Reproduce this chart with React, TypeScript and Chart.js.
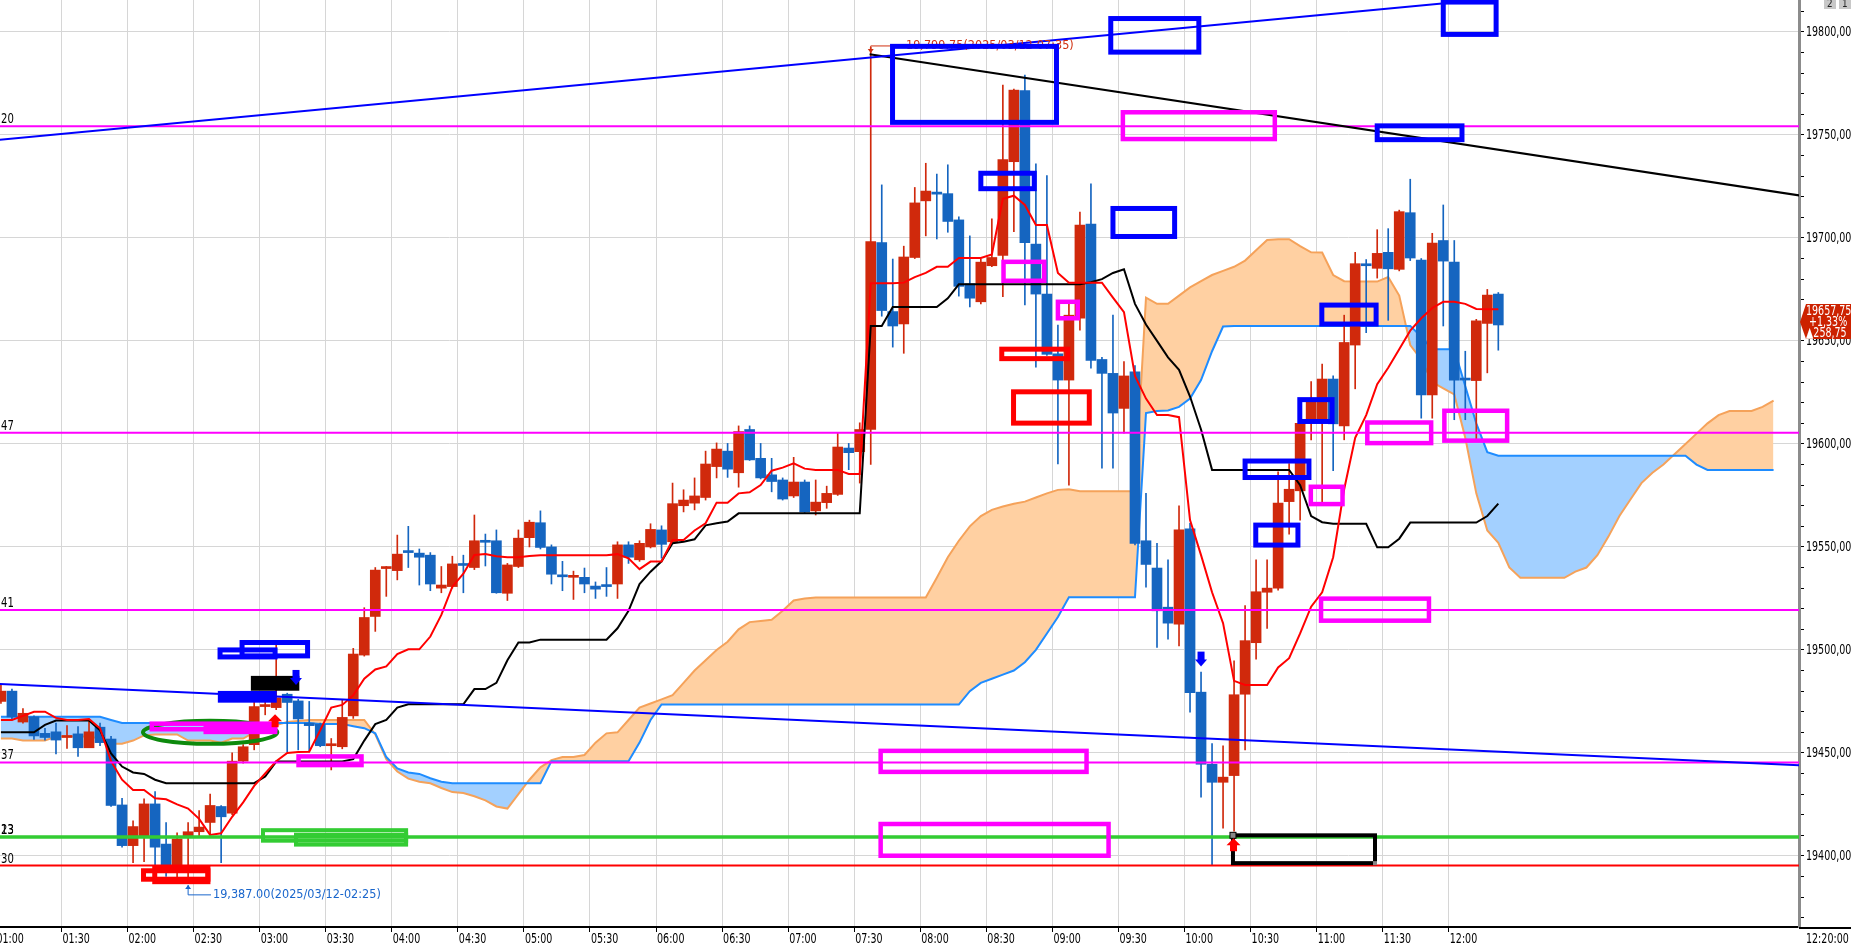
import React, { useEffect, useRef } from 'react';
import { Chart, registerables } from 'chart.js';

Chart.register(...registerables);

// ---------- axis labels ----------
const xTickLabels = ['01:00', '01:30', '02:00', '02:30', '03:00', '03:30', '04:00', '04:30', '05:00', '05:30', '06:00', '06:30', '07:00', '07:30', '08:00', '08:30', '09:00', '09:30', '10:00', '10:30', '11:00', '11:30', '12:00'];
const xEndLabel = '12:20:00';
const yMajorTicks = [19400, 19450, 19500, 19550, 19600, 19650, 19700, 19750, 19800];

// ---------- 5-minute candles (index 0 = 01:00) ----------
const open = [
  19475, 19480, 19465, 19467.5, 19459.5, 19460.25, 19457.5, 19459.25, 19452.5, 19462.5,
  19456.75, 19424.75, 19405, 19409.75, 19425.25, 19405.75, 19393.25, 19409.75, 19411.75, 19416.25,
  19424, 19420.75, 19446, 19454, 19472.5, 19472, 19478.5, 19475.25, 19464.5, 19464,
  19453.5, 19453, 19468, 19497.5, 19516.25, 19539.5, 19538.5, 19547.5, 19547, 19546,
  19530, 19530.75, 19541.25, 19540, 19552.5, 19553, 19527.5, 19540.5, 19554.5, 19561.75,
  19550, 19536, 19535.25, 19535.25, 19531, 19531, 19532, 19551, 19543.75, 19550,
  19558.25, 19552.5, 19570, 19571.25, 19574, 19589, 19596.5, 19586, 19607, 19593,
  19585, 19582.5, 19574.75, 19581.5, 19567.5, 19571.5, 19575.5, 19598, 19596.25, 19607,
  19697.75, 19664.25, 19658.25, 19690.5, 19718, 19722.25, 19721.5, 19708.75, 19677.75, 19669,
  19686.5, 19691.5, 19737, 19771.5, 19697, 19672.75, 19643.75, 19631, 19661, 19706.75,
  19641, 19634.25, 19617.25, 19635, 19553, 19539.75, 19520.75, 19512.5, 19558.75, 19479.5,
  19444.5, 19435.75, 19439, 19478.5, 19503.5, 19528, 19530, 19572, 19577.25, 19611.75,
  19611.75, 19631.5, 19608.75, 19648, 19687, 19685.25, 19693, 19684.75, 19712.25, 19689.25,
  19623.75, 19698.75, 19688.25, 19631.5, 19630.75, 19658.5, 19672.75
];
const high = [
  19483, 19481, 19471.5, 19468, 19462, 19464.5, 19463.25, 19462.75, 19465.5, 19464.5,
  19458, 19428, 19417, 19427.75, 19431.25, 19416.25, 19411.25, 19416.25, 19422, 19430,
  19424.5, 19450, 19454, 19475, 19475.75, 19502.5, 19479, 19476, 19475, 19464.5,
  19457, 19475.75, 19500.75, 19520.5, 19540, 19540.5, 19555.75, 19560, 19549, 19547.25,
  19540.5, 19545.5, 19546, 19565.5, 19556.25, 19558.25, 19542, 19558.25, 19563, 19567.5,
  19551, 19543, 19538.25, 19539.75, 19533, 19540, 19552.5, 19552.5, 19553, 19561.25,
  19560.25, 19581, 19577.75, 19583.5, 19596.5, 19600.5, 19600.25, 19608.75, 19608.75, 19600.25,
  19593, 19583.5, 19593.5, 19582.5, 19582.5, 19579.5, 19605.5, 19600.25, 19610.25, 19792.5,
  19725.75, 19689.75, 19696, 19724.5, 19736.25, 19731, 19735.5, 19710.25, 19701, 19689.75,
  19709.25, 19774.25, 19772.25, 19779, 19736, 19730.25, 19657.75, 19668.25, 19712.5, 19726.25,
  19642, 19662.5, 19640, 19638, 19576, 19551.75, 19543.75, 19570, 19561.5, 19489.25,
  19454.5, 19453.5, 19494.75, 19521.5, 19543.75, 19543.75, 19586.5, 19590.5, 19612, 19630.25,
  19638.75, 19633, 19662.5, 19693, 19689.5, 19704, 19704.5, 19713.5, 19728.5, 19690,
  19702.25, 19716, 19698.75, 19645, 19660.5, 19675, 19673.5
];
const low = [
  19474, 19466, 19464.5, 19456.5, 19456.25, 19449.5, 19452.25, 19448.25, 19452.5, 19453.5,
  19424, 19404.25, 19396.75, 19397.25, 19395.5, 19390, 19389, 19387, 19409.5, 19410.25,
  19396.75, 19420, 19445, 19451.5, 19468.5, 19471, 19450.5, 19451.5, 19450.5, 19453,
  19441.75, 19452, 19466.75, 19497, 19509, 19526, 19534, 19540, 19531.5, 19528.75,
  19527.75, 19530, 19527.75, 19539, 19540.75, 19527.5, 19524, 19540, 19550, 19549,
  19532, 19528.75, 19524.5, 19527.75, 19525, 19526, 19525, 19542, 19543, 19549.5,
  19544.5, 19552, 19567, 19568, 19572.75, 19583.5, 19583.75, 19579, 19592, 19583,
  19576.75, 19572.75, 19574, 19566.5, 19565.5, 19568.75, 19575, 19587.5, 19581, 19590,
  19662, 19647, 19644, 19690, 19701, 19699.5, 19702.75, 19671.75, 19666.5, 19668,
  19686, 19671.5, 19703, 19667.5, 19637.25, 19643, 19590.25, 19580, 19655.25, 19636.75,
  19588.25, 19588.25, 19605.25, 19551, 19530.5, 19501.25, 19505.25, 19502, 19469.75, 19428.5,
  19395.5, 19413.5, 19412, 19451.5, 19495.5, 19510.5, 19529, 19556.25, 19563, 19602,
  19571.25, 19587, 19602, 19626.75, 19654, 19680.5, 19660, 19684, 19689, 19612.5,
  19612.5, 19657.25, 19611.75, 19611.75, 19602.25, 19634.5, 19645.5
];
const close = [
  19480, 19467.5, 19469.25, 19458.25, 19457.5, 19456.25, 19457.75, 19452.5, 19460.25, 19455,
  19424.5, 19405, 19414.25, 19425.25, 19404.25, 19395, 19408.25, 19411.75, 19414, 19424.5,
  19419, 19446, 19453, 19472.5, 19473, 19476.75, 19474.5, 19466.5, 19463.25, 19453.5,
  19453.75, 19467.25, 19498, 19515.75, 19538.75, 19540, 19546.5, 19547.25, 19545, 19532,
  19531.5, 19541.75, 19541, 19553, 19552.25, 19527.75, 19541.25, 19554.25, 19562, 19549.75,
  19536.75, 19535.5, 19535.5, 19532, 19529.5, 19530.75, 19551, 19545, 19551.75, 19558.5,
  19551.25, 19571, 19572.75, 19574.75, 19590.25, 19597.5, 19587.75, 19606, 19592.25, 19583.5,
  19581.75, 19573.25, 19581.5, 19567, 19571.75, 19576, 19598.5, 19595.75, 19607, 19698.25,
  19664.75, 19657.25, 19690.75, 19717, 19722.75, 19721.25, 19708, 19676.5, 19670.75, 19688.25,
  19690.5, 19738, 19771.75, 19697.75, 19672.75, 19643.5, 19631, 19662.5, 19706.25, 19640.5,
  19634.25, 19615, 19633, 19551.75, 19541.5, 19519, 19513, 19558.25, 19479.25, 19444.5,
  19435.75, 19438.25, 19478.25, 19504.5, 19528.25, 19530, 19571.25, 19578, 19610, 19620.5,
  19631.5, 19609.75, 19649.25, 19687.5, 19686.5, 19692.5, 19685, 19712.75, 19690.25, 19623.75,
  19697.5, 19688.75, 19631, 19631, 19659.75, 19672.25, 19657.75
];

// ---------- Ichimoku lines ----------
const tenkan = [
  19466, 19466, 19468, 19470, 19470, 19467, 19466, 19466, 19466.5, 19462,
  19446, 19437, 19432, 19432, 19428, 19427.5, 19425, 19423, 19418, 19410.2,
  19411, 19419, 19426, 19434, 19440, 19446, 19450, 19450.5, 19450.6, 19461,
  19472, 19473.3, 19478, 19486, 19490.5, 19492, 19498, 19500.3, 19500.3, 19506.5,
  19517, 19530.7, 19537, 19546.1, 19546.6, 19545.5, 19545, 19545, 19545.6, 19546,
  19546, 19546, 19546, 19546, 19546, 19546, 19546.5, 19544.5, 19539.2, 19542.9,
  19542.9, 19553.4, 19553.4, 19558, 19561.5, 19571.5, 19571.5, 19576, 19576.5, 19580,
  19587, 19588.5, 19590.6, 19588, 19587.4, 19587.4, 19587.4, 19585.4, 19585.4, 19678,
  19678, 19678, 19678.3, 19681, 19683, 19686, 19686, 19690.3, 19690.3, 19690.3,
  19692, 19719, 19720.5, 19716, 19706.3, 19706.3, 19683, 19678.3, 19678.3, 19678.3,
  19678.3, 19671, 19664, 19633, 19622, 19614, 19614, 19613, 19563, 19546,
  19528, 19513, 19485, 19483, 19483, 19483, 19491.5, 19496, 19508, 19521,
  19528, 19545, 19578, 19603, 19614, 19629, 19637, 19646, 19655, 19661,
  19666, 19669, 19669, 19668, 19665.5, 19665.4, 19665.4
];
const kijun = [
  19460, 19460, 19460, 19460, 19463.6, 19465.7, 19465.7, 19465.7, 19465.7, 19461,
  19449.8, 19443.4, 19440.5, 19439.8, 19437, 19435.3, 19435.3, 19435.3, 19435.3, 19435.3,
  19435.3, 19435.3, 19435.3, 19435.3, 19438.5, 19445.8, 19445.8, 19445.8, 19445.8, 19445.8,
  19445.8, 19445.8, 19447, 19456, 19464, 19466, 19472, 19473.6, 19473.6, 19473.6,
  19473.6, 19473.6, 19473.6, 19481, 19481, 19484, 19495, 19503.6, 19503.6, 19505,
  19505, 19505, 19505, 19505, 19505, 19505, 19510.5, 19519, 19532, 19538,
  19543, 19551.8, 19552.5, 19553.7, 19560.5, 19561.5, 19562.3, 19566.3, 19566.3, 19566.3,
  19566.3, 19566.3, 19566.3, 19566.3, 19566.3, 19566.3, 19566.3, 19566.3, 19566.3, 19657.3,
  19657.3, 19666.5, 19666.5, 19666.5, 19666.5, 19666.5, 19670.7, 19677.5, 19677.5, 19677.5,
  19677.5, 19677.5, 19677.5, 19677.5, 19677.5, 19677.5, 19677.5, 19677.5, 19677.5, 19678.5,
  19680, 19683, 19684.8, 19668, 19658, 19650, 19642, 19636, 19623, 19607,
  19587.4, 19587.4, 19587.4, 19587.4, 19587.4, 19587.4, 19587.4, 19587.4, 19580, 19565,
  19562, 19561.2, 19561.2, 19561.2, 19561.2, 19549.8, 19549.8, 19554, 19561.8, 19561.8,
  19561.8, 19561.8, 19561.8, 19561.8, 19561.8, 19565, 19571
];
const spanA = [
  19457, 19457, 19456, 19456, 19456, 19458, 19458, 19458, 19458, 19457,
  19454.5, 19454.5, 19456, 19458.5, 19459, 19459, 19459, 19456, 19456, 19456,
  19455, 19457, 19457, 19460, 19462, 19463.5, 19465, 19465.5, 19466, 19466,
  19466, 19466, 19466, 19466, 19459, 19447, 19441, 19437.5, 19436, 19435.3,
  19433, 19431, 19430.5, 19429, 19427, 19424, 19423, 19430, 19437, 19443,
  19446.5, 19448, 19448, 19449, 19455, 19459.5, 19460, 19466, 19472, 19474,
  19476, 19478, 19484, 19490, 19495, 19500, 19504, 19510, 19513.5, 19514,
  19514.6, 19519, 19524, 19525, 19525.5, 19525.5, 19525.5, 19525.5, 19525.5, 19525.5,
  19525.5, 19525.5, 19525.5, 19525.5, 19525.5, 19535, 19545, 19553, 19560, 19565,
  19568, 19569.6, 19571, 19572, 19574, 19576, 19577.7, 19578, 19577, 19577,
  19577, 19577, 19577, 19577, 19671, 19668, 19668, 19672, 19676, 19679,
  19682, 19684, 19686, 19689, 19694, 19699, 19699.4, 19699.4, 19696, 19693,
  19692.9, 19682, 19679, 19678.8, 19678.8, 19678.8, 19681, 19672, 19648, 19641,
  19630, 19627, 19624, 19603, 19576, 19558, 19552, 19540, 19535, 19535,
  19535, 19535, 19535, 19538, 19540, 19546, 19555, 19565, 19573, 19581,
  19586, 19590, 19595, 19600, 19605, 19610, 19614, 19616, 19616, 19616,
  19618, 19621
];
const spanB = [
  19467.6, 19467.6, 19467.6, 19467.6, 19467.6, 19467.6, 19467.6, 19467.6, 19467.6, 19467.6,
  19466, 19464.5, 19464.5, 19464.5, 19464.5, 19464.5, 19464.5, 19464.5, 19464.5, 19464.5,
  19464.5, 19464.5, 19464.5, 19464.5, 19464.5, 19464.5, 19464.5, 19464.5, 19464.5, 19464.1,
  19464.1, 19464.1, 19463, 19462, 19459.5, 19448, 19442.5, 19440.5, 19439.8, 19437.7,
  19436, 19435.3, 19435.3, 19435.3, 19435.3, 19435.3, 19435.3, 19435.3, 19435.3, 19435.3,
  19446, 19446, 19446, 19446, 19446, 19446, 19446, 19446, 19455, 19466,
  19473.5, 19473.5, 19473.5, 19473.5, 19473.5, 19473.5, 19473.5, 19473.5, 19473.5, 19473.5,
  19473.5, 19473.5, 19473.5, 19473.5, 19473.5, 19473.5, 19473.5, 19473.5, 19473.5, 19473.5,
  19473.5, 19473.5, 19473.5, 19473.5, 19473.5, 19473.5, 19473.5, 19473.5, 19480, 19484,
  19486, 19488, 19490, 19494, 19500, 19508, 19516, 19525.6, 19525.6, 19525.6,
  19525.6, 19525.6, 19525.6, 19525.6, 19615, 19616, 19616.2, 19618, 19622, 19631,
  19645, 19657, 19657.3, 19657.3, 19657.3, 19657.3, 19657.3, 19657.3, 19657.3, 19657.3,
  19657.3, 19657.3, 19657.3, 19657.3, 19657.3, 19657.3, 19657.3, 19657.3, 19657.3, 19652,
  19646, 19646, 19646, 19628, 19610, 19596, 19594.3, 19594.3, 19594.3, 19594.3,
  19594.3, 19594.3, 19594.3, 19594.3, 19594.3, 19594.3, 19594.3, 19594.3, 19594.3, 19594.3,
  19594.3, 19594.3, 19594.3, 19594.3, 19590, 19587.4, 19587.4, 19587.4, 19587.4, 19587.4,
  19587.4, 19587.4
];

// ---------- horizontal levels ----------
const levelValues = [19754.2, 19605.47, 19519.41, 19445.37, 19409.13, 19409.23, 19395.3];
const levelLabels = ['20', '47', '41', '37', '13', '23', '30'];
const levelKinds = ['m', 'm', 'm', 'm', 'g', 'g', 'r'];

// ---------- trend lines: [index, price] end points ----------
const trendBlueUpper = [[-1, 19747.2], [140, 19818.4]];
const trendBlueLower = [[-1, 19483.7], [165, 19443.6]];
const trendBlackDown = [[78.9, 19789.2], [164, 19720.1]];

// ---------- drawn boxes: [index left, index right, price top, price bottom] ----------
const blueBoxes = [
  [80.98, 95.87, 19793.0, 19756.1], [100.8, 108.8, 19806.5, 19790.2], [131.0, 135.8, 19814.5, 19798.8],
  [89.0, 93.85, 19731.4, 19723.9], [101.0, 106.6, 19714.3, 19700.7], [125.0, 132.7, 19754.4, 19747.7],
  [119.97, 124.9, 19667.4, 19658.2], [117.97, 120.9, 19621.5, 19610.9], [113.0, 118.8, 19591.7, 19583.7],
  [113.97, 117.8, 19560.6, 19550.9], [19.9, 24.9, 19500, 19496.6], [21.9, 27.85, 19503.6, 19497.1]
];
const magentaBoxes = [
  [101.9, 115.7, 19761, 19748], [91.06, 94.76, 19688.4, 19679.2], [96.0, 97.8, 19669, 19661],
  [124.1, 129.9, 19610.4, 19600.4], [131.1, 136.8, 19616.1, 19601.6], [118.97, 121.85, 19579.2, 19570.8],
  [119.9, 129.7, 19524.9, 19514.2], [79.9, 98.6, 19451, 19440.8], [79.9, 100.6, 19415.5, 19400.1],
  [27.03, 32.75, 19448.3, 19444.1], [18.6, 24.9, 19463.4, 19460.2], [13.7, 24.9, 19464.2, 19461.5]
];
const redBoxes = [
  [12.95, 18.8, 19392.8, 19388.7], [13.97, 18.8, 19393.9, 19387.5],
  [90.9, 96.9, 19646, 19641.4], [91.97, 98.85, 19625.3, 19610.1]
];
const greenBoxes = [[23.8, 36.8, 19412.5, 19407.4], [26.8, 36.8, 19410.3, 19405.5]];
const blackBoxes = [[111.9, 124.8, 19410, 19396.5]];
const solidBlueBoxes = [[19.7, 25.05, 19480.1, 19474.4]];
const solidBlackBoxes = [[22.7, 27.1, 19487.4, 19480.2]];
const greenEllipse = [19.0, 19460, 6.1, 5.6];
const blueDownArrows = [[109.0, 19491.9], [26.8, 19483]];
const redUpArrows = [[24.9, 19468.8], [111.95, 19408.6]];
const highNote = { i: 79, p: 19793.2, ti: 82.2, text: '19,799.75(2025/03/12-07:35)' };
const lowNote = { i: 17, p: 19385.9, tp: 19381.1, ti: 19.26, text: '19,387.00(2025/03/12-02:25)' };
const lastPrice = { value: 19657.75, text: '19657,75', pct: '+1,33%', chg: '\u25B2258,75' };
const cornerButtons = ['2', '1'];

// ---------- layout / style ----------
const W = 1851;
const H = 947;
const X_MIN = -0.0854;
const X_MAX = 163.31;
const Y_MIN = 19365.5;
const Y_MAX = 19815.5;
const FONT = "'DejaVu Sans',sans-serif";
const RED = '#d0290c';
const BLUE = '#1565c0';
const GRID = '#d6d6d6';
const levelStyle: any = { m: ['#ff00ff', 2], g: ['#33cc33', 3], r: ['#ff0000', 2] };

// condensed text helper
function ctext(ctx: any, s: string, x: number, y: number, size: number, sx: number) {
  ctx.save();
  ctx.font = `${size}px ${FONT}`;
  ctx.translate(x, y);
  ctx.scale(sx, 1);
  ctx.fillText(s, 0, 0);
  ctx.restore();
}

const annotPlugin = {
  id: 'annot',
  afterDatasetsDraw(chart: any) {
    const { ctx, chartArea: a, scales } = chart;
    const xs = scales.x;
    const ys = scales.y;
    const X = (v: number) => xs.getPixelForValue(v);
    const Y = (v: number) => ys.getPixelForValue(v);
    ctx.save();
    ctx.beginPath();
    ctx.rect(a.left, a.top, a.right - a.left, a.bottom - a.top);
    ctx.clip();

    // level labels
    ctx.fillStyle = '#000';
    ctx.textAlign = 'left';
    ctx.textBaseline = 'alphabetic';
    levelValues.forEach((v, k) => ctext(ctx, levelLabels[k], 1, Y(v) - 3, 14, 0.72));

    // notes
    ctx.textBaseline = 'middle';
    ctx.fillStyle = '#d03010';
    ctx.strokeStyle = '#d03010';
    ctx.lineWidth = 1;
    {
      const x0 = X(highNote.i), y0 = Y(highNote.p), tx = X(highNote.ti);
      ctx.beginPath();
      ctx.moveTo(x0, y0 + 6);
      ctx.lineTo(x0, y0);
      ctx.lineTo(tx - 2, y0);
      ctx.stroke();
      ctx.beginPath();
      ctx.moveTo(x0 - 3, y0 + 3);
      ctx.lineTo(x0 + 3, y0 + 3);
      ctx.lineTo(x0, y0 + 7);
      ctx.closePath();
      ctx.fill();
      ctext(ctx, highNote.text, tx, y0, 12, 0.94);
    }
    ctx.fillStyle = '#1a66cc';
    ctx.strokeStyle = '#1a66cc';
    {
      const x0 = X(lowNote.i), y0 = Y(lowNote.p), y1 = Y(lowNote.tp), tx = X(lowNote.ti);
      ctx.beginPath();
      ctx.moveTo(x0, y0);
      ctx.lineTo(x0, y1);
      ctx.lineTo(tx - 2, y1);
      ctx.stroke();
      ctx.beginPath();
      ctx.moveTo(x0 - 3, y0 + 4);
      ctx.lineTo(x0 + 3, y0 + 4);
      ctx.lineTo(x0, y0);
      ctx.closePath();
      ctx.fill();
      ctext(ctx, lowNote.text, tx, y1, 12, 0.94);
    }

    const fillBox = (b: number[], c: string) => {
      ctx.fillStyle = c;
      ctx.fillRect(X(b[0]), Y(b[2]), X(b[1]) - X(b[0]), Y(b[3]) - Y(b[2]));
    };
    const strokeBox = (b: number[], c: string, w: number) => {
      ctx.strokeStyle = c;
      ctx.lineWidth = w;
      ctx.strokeRect(X(b[0]), Y(b[2]), X(b[1]) - X(b[0]), Y(b[3]) - Y(b[2]));
    };
    solidBlueBoxes.forEach((b) => fillBox(b, '#0000ff'));
    solidBlackBoxes.forEach((b) => fillBox(b, '#000'));

    // ellipse
    ctx.strokeStyle = '#0d8a0d';
    ctx.lineWidth = 4;
    ctx.beginPath();
    const ex = X(greenEllipse[0]), ey = Y(greenEllipse[1]);
    const rx = X(greenEllipse[0] + greenEllipse[2]) - ex, ry = ey - Y(greenEllipse[1] + greenEllipse[3]);
    ctx.ellipse(ex, ey, rx, ry, 0, 0, Math.PI * 2);
    ctx.stroke();

    greenBoxes.forEach((b) => strokeBox(b, '#33cc33', 4));
    magentaBoxes.forEach((b) => strokeBox(b, '#ff00ff', 4.5));
    redBoxes.forEach((b) => strokeBox(b, '#ff0000', 5));
    blueBoxes.forEach((b) => strokeBox(b, '#0000ff', 5));
    blackBoxes.forEach((b) => {
      strokeBox(b, '#000', 4);
      ctx.fillStyle = '#888';
      ctx.strokeStyle = '#000';
      ctx.lineWidth = 1;
      ctx.fillRect(X(b[0]) - 3, Y(b[2]) - 3, 6, 6);
      ctx.strokeRect(X(b[0]) - 3, Y(b[2]) - 3, 6, 6);
      ctx.fillRect(X(b[1]) - 2, Y(b[3]) - 2, 4, 4);
    });

    // arrows
    blueDownArrows.forEach(([i, p]) => {
      const x0 = X(i), y0 = Y(p);
      ctx.fillStyle = '#0000ff';
      ctx.fillRect(x0 - 3.5, y0 - 15, 7, 9);
      ctx.beginPath();
      ctx.moveTo(x0 - 6, y0 - 7);
      ctx.lineTo(x0 + 6, y0 - 7);
      ctx.lineTo(x0, y0);
      ctx.closePath();
      ctx.fill();
    });
    redUpArrows.forEach(([i, p]) => {
      const x0 = X(i), y0 = Y(p);
      ctx.fillStyle = '#ff0000';
      ctx.beginPath();
      ctx.moveTo(x0 - 7, y0 + 7);
      ctx.lineTo(x0 + 7, y0 + 7);
      ctx.lineTo(x0, y0);
      ctx.closePath();
      ctx.fill();
      ctx.fillRect(x0 - 3.5, y0 + 6, 7, 7);
    });
    ctx.restore();
  },
  afterDraw(chart: any) {
    const { ctx, chartArea: a, scales } = chart;
    const xs = scales.x;
    const ys = scales.y;
    ctx.save();
    // x axis extension under the price scale
    ctx.strokeStyle = '#000';
    ctx.lineWidth = 2;
    ctx.beginPath();
    ctx.moveTo(a.right, a.bottom + 1);
    ctx.lineTo(W, a.bottom + 1);
    ctx.stroke();

    ctx.fillStyle = '#000';
    ctx.textBaseline = 'middle';
    ctx.textAlign = 'left';
    xTickLabels.forEach((t, k) => {
      const px = xs.getPixelForValue(k * 6 - 0.5);
      ctext(ctx, t, px + 1, a.bottom + 12, 14, 0.68);
    });
    ctext(ctx, xEndLabel, a.right + 7, a.bottom + 12, 14, 0.68);

    yMajorTicks.forEach((v) => {
      ctext(ctx, `${v},00`, a.right + 7, ys.getPixelForValue(v), 14, 0.68);
    });

    // last price tag
    const py = ys.getPixelForValue(lastPrice.value) - 3;
    ctx.fillStyle = '#cc2200';
    ctx.beginPath();
    ctx.moveTo(a.right + 1, py);
    ctx.lineTo(a.right + 7, py - 18);
    ctx.lineTo(W, py - 18);
    ctx.lineTo(W, py + 17);
    ctx.lineTo(a.right + 7, py + 17);
    ctx.closePath();
    ctx.fill();
    ctx.fillStyle = '#fff';
    ctext(ctx, lastPrice.text, a.right + 7, py - 11, 14, 0.68);
    ctext(ctx, lastPrice.pct, a.right + 10, py, 14, 0.68);
    ctext(ctx, lastPrice.chg, a.right + 7, py + 11, 14, 0.68);

    // small buttons in the top right corner
    cornerButtons.forEach((t, k) => {
      const bx = W - 27 + k * 15;
      ctx.fillStyle = '#c8c8c8';
      ctx.fillRect(bx, 0, 12, 9);
      ctx.fillStyle = '#222';
      ctext(ctx, t, bx + 3, 4, 11, 0.8);
    });
    ctx.restore();
  }
};

export default function App() {
  const ref = useRef<HTMLCanvasElement | null>(null);
  useEffect(() => {
    document.body.style.margin = '0';
    const canvas = ref.current;
    if (!canvas) return;
    const idx = close.map((_, i) => i);
    const candleColors = idx.map((i) => (close[i] >= open[i] ? RED : BLUE));
    const pts = (arr: number[]) => arr.map((v, i) => ({ x: i, y: v }));
    const seg = (arr: number[][]) => arr.map(([x, y]) => ({ x, y }));
    const xTickVals = xTickLabels.map((_, k) => k * 6 - 0.5);
    const yAllTicks: number[] = [];
    for (let v = 19370; v <= 19810; v += 10) yAllTicks.push(v);

    const line = (data: any[], color: string, width: number, order: number, extra: any = {}) => ({
      type: 'line', data, borderColor: color, borderWidth: width, pointRadius: 0, tension: 0, fill: false, order, ...extra
    });

    const datasets: any[] = [
      line(pts(spanA), '#f5a25a', 2, 20, { fill: { target: 1, above: '#ffd0a2', below: '#a3d0ff' } }),
      line(pts(spanB), '#1e8cff', 2, 19),
      {
        type: 'bar', data: idx.map((i) => ({ x: i, y: [low[i], high[i]] })), backgroundColor: candleColors,
        borderWidth: 0, barThickness: 1, grouped: false, order: 18
      },
      {
        type: 'bar', data: idx.map((i) => ({ x: i, y: [open[i], close[i]] })), backgroundColor: candleColors,
        borderWidth: 0, barThickness: 10, minBarLength: 2, grouped: false, order: 17
      },
      line(pts(kijun), '#000000', 2, 16),
      line(pts(tenkan), '#ff0000', 2, 15)
    ];
    levelValues.forEach((v, k) => {
      const [c, w] = levelStyle[levelKinds[k]];
      datasets.push(line([{ x: -1, y: v }, { x: 170, y: v }], c, w, 10));
    });
    datasets.push(line(seg(trendBlueLower), '#0000ff', 2, 5));
    datasets.push(line(seg(trendBlueUpper), '#0000ff', 2, 5));
    datasets.push(line(seg(trendBlackDown), '#000000', 2, 5));

    const chart = new Chart(canvas, {
      type: 'line',
      data: { datasets },
      options: {
        responsive: false,
        animation: false,
        devicePixelRatio: 1,
        events: [],
        layout: { padding: 0 },
        plugins: { legend: { display: false }, tooltip: { enabled: false } },
        scales: {
          x: {
            type: 'linear', min: X_MIN, max: X_MAX, offset: false, position: 'bottom',
            grid: { color: GRID, lineWidth: 1, drawTicks: true, tickLength: 5, tickColor: '#000', offset: false },
            border: { display: true, color: '#000', width: 2 },
            ticks: { display: false },
            afterBuildTicks: (s: any) => { s.ticks = xTickVals.map((v) => ({ value: v })); },
            afterFit: (s: any) => { s.height = 20; }
          },
          y: {
            type: 'linear', position: 'right', min: Y_MIN, max: Y_MAX,
            grid: {
              color: (c: any) => (c.tick && c.tick.value % 50 === 0 ? GRID : 'rgba(0,0,0,0)'),
              drawTicks: true, tickLength: 5, tickColor: '#000'
            },
            border: { display: true, color: '#8c8c8c', width: 3 },
            ticks: { display: false },
            afterBuildTicks: (s: any) => { s.ticks = yAllTicks.map((v) => ({ value: v })); },
            afterFit: (s: any) => { s.width = 52; }
          }
        }
      } as any,
      plugins: [annotPlugin]
    } as any);
    return () => chart.destroy();
  }, []);
  return (
    <div style={{ width: W, height: H }}>
      <canvas ref={ref} width={W} height={H} style={{ display: 'block' }} />
    </div>
  );
}
